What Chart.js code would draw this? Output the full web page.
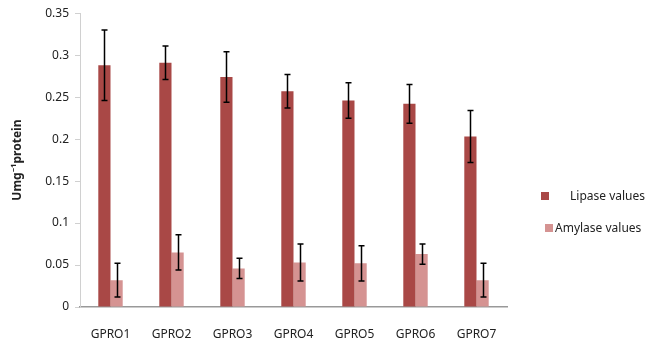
<!DOCTYPE html>
<html>
<head>
<meta charset="utf-8">
<script src="https://cdn.jsdelivr.net/npm/chart.js@4"></script>
<style>
    html, body { margin: 0; padding: 0; background: #fff; }
    #wrap { position: relative; width: 665px; height: 353px; }
    .legend-item { position: absolute; font-family: "Noto Sans", sans-serif; font-size: 12px; color: #222; line-height: 14px; white-space: nowrap; }
    .legend-item span { display: inline-block; width: 8px; height: 8px; vertical-align: middle; margin-top: -2px; }
</style>
</head>
<body>
<div id="wrap">
    <canvas id="chart" width="665" height="353"></canvas>
    <div class="legend-item" style="left:541px; top:189px;"><span style="background:#a94846;"></span><b style="font-weight:normal; margin-left:21px;">Lipase values</b></div>
    <div class="legend-item" style="left:545px; top:221px;"><span style="background:#d59392;"></span><b style="font-weight:normal; margin-left:2px;">Amylase values</b></div>
</div>
<script>
const categories = ['GPRO1', 'GPRO2', 'GPRO3', 'GPRO4', 'GPRO5', 'GPRO6', 'GPRO7'];
const lipaseValues = [0.288, 0.291, 0.274, 0.257, 0.246, 0.242, 0.203];
const lipaseErrors = [0.042, 0.020, 0.030, 0.020, 0.021, 0.023, 0.031];
const amylaseValues = [0.032, 0.065, 0.046, 0.053, 0.052, 0.063, 0.032];
const amylaseErrors = [0.020, 0.021, 0.012, 0.022, 0.021, 0.012, 0.020];

const errorBars = {
    id: 'errorBars',
    afterDatasetsDraw(chart) {
        const ctx = chart.ctx;
        const yScale = chart.scales.y;
        ctx.save();
        ctx.strokeStyle = '#000';
        ctx.lineWidth = 1.5;
        chart.data.datasets.forEach((ds, i) => {
            const meta = chart.getDatasetMeta(i);
            meta.data.forEach((bar, j) => {
                const v = ds.data[j];
                const e = ds.errors[j];
                const top = yScale.getPixelForValue(v + e);
                const bottom = yScale.getPixelForValue(v - e);
                const x = Math.round(bar.x) + 0.5;
                ctx.beginPath();
                ctx.moveTo(x, top); ctx.lineTo(x, bottom);
                ctx.moveTo(x - 3, top); ctx.lineTo(x + 3, top);
                ctx.moveTo(x - 3, bottom); ctx.lineTo(x + 3, bottom);
                ctx.stroke();
            });
        });
        ctx.restore();
    }
};

new Chart(document.getElementById('chart'), {
    type: 'bar',
    data: {
        labels: categories,
        datasets: [
            { label: 'Lipase values', data: lipaseValues, errors: lipaseErrors, backgroundColor: '#a94846' },
            { label: 'Amylase values', data: amylaseValues, errors: amylaseErrors, backgroundColor: '#d59392' }
        ]
    },
    options: {
        responsive: false,
        animation: false,
        layout: { padding: { left: 0, right: 158, top: 12, bottom: 0 } },
        datasets: { bar: { categoryPercentage: 0.4, barPercentage: 1 } },
        plugins: { legend: { display: false }, tooltip: { enabled: false } },
        scales: {
            x: {
                grid: { display: false },
                border: { color: '#999', width: 1.5 },
                ticks: { color: '#222', font: { family: 'Noto Sans', size: 12 }, padding: 12, maxRotation: 0 },
                afterFit(scale) { scale.height = 46; }
            },
            y: {
                min: 0,
                max: 0.35,
                grid: { drawOnChartArea: false, drawTicks: true, tickLength: 5, color: '#d0d0d0' },
                border: { color: '#d0d0d0' },
                ticks: {
                    stepSize: 0.05,
                    color: '#222',
                    padding: 6,
                    font: { family: 'Noto Sans', size: 12 },
                    callback: v => String(parseFloat(v.toFixed(2)))
                },
                title: {
                    display: true,
                    text: 'Umg⁻¹protein',
                    color: '#222',
                    font: { family: 'Noto Sans', size: 12, weight: 'bold' },
                    padding: { top: 10, bottom: 0 }
                },
                afterFit(scale) { scale.width = 80; }
            }
        }
    },
    plugins: [errorBars]
});
</script>
</body>
</html>
